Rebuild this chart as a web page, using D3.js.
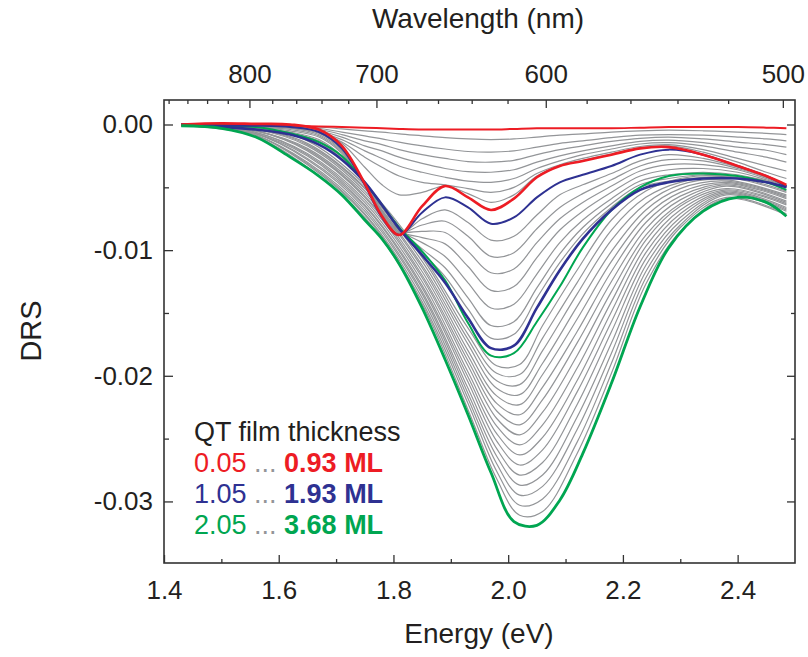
<!DOCTYPE html>
<html>
<head>
<meta charset="utf-8">
<script src="https://cdn.jsdelivr.net/npm/d3@7"></script>
<style>
  body { margin: 0; background: #fff; }
  svg { font-family: "Liberation Sans", Arial, sans-serif; }
</style>
</head>
<body>
<svg id="chart"></svg>
<script>
// DRS values below are in units of 1e-3
var drsUnit = 1e-3

// energy grid (eV) for the coloured curves and gray groups 1, 2
var energy = [1.43, 1.50, 1.56, 1.62, 1.67, 1.71, 1.75, 1.78, 1.81, 1.85, 1.89, 1.93,
              1.97, 2.01, 2.05, 2.09, 2.13, 2.18, 2.23, 2.28, 2.34, 2.40, 2.45, 2.485]

var red005   = [0, 0, -0.05, -0.1, -0.15, -0.2, -0.25, -0.3, -0.35, -0.4, -0.4, -0.4,
                -0.4, -0.35, -0.3, -0.3, -0.3, -0.3, -0.25, -0.2, -0.2, -0.2, -0.25, -0.3]
var red093   = [0, 0.1, 0.05, 0, -0.4, -1.7, -4.7, -7.3, -8.8, -6.5, -4.9, -5.8,
                -6.8, -5.9, -4.2, -3.3, -2.9, -2.4, -1.9, -1.8, -2.4, -3.3, -4.1, -4.8]
var blue105  = [0, -0.1, -0.1, -0.2, -0.6, -1.9, -4.8, -7.4, -8.8, -7.0, -5.8, -6.6,
                -7.9, -7.4, -5.8, -4.6, -4.0, -3.3, -2.4, -2.0, -2.4, -3.3, -4.1, -4.9]
var blue193  = [0, -0.2, -0.4, -0.8, -1.6, -2.8, -4.6, -6.4, -8.3, -10.4, -12.6, -15.4,
                -17.8, -17.6, -14.6, -11.6, -9.1, -6.8, -5.2, -4.6, -4.3, -4.3, -4.6, -5.0]
var green205 = [0, -0.1, -0.2, -0.7, -1.4, -2.5, -4.6, -6.4, -8.2, -10.1, -12.4, -15.8,
                -18.4, -18.2, -15.7, -12.9, -9.8, -6.8, -5.0, -4.1, -3.9, -4.1, -4.6, -5.2]
var green368 = [-0.1, -0.3, -1.0, -2.6, -4.1, -5.6, -7.6, -9.1, -11.1, -14.6, -18.7, -23.1,
                -27.7, -31.6, -31.9, -29.9, -26.2, -20.6, -14.5, -9.8, -6.9, -5.8, -6.2, -7.3]

// gray curves between 0.05 and 0.93 ML
var grayGroup1 = [
  [0, 0, 0, -0.1, -0.2, -0.35, -0.5, -0.6, -0.75, -0.9, -1.05, -1.15, -1.2, -1.15, -1.0, -0.85, -0.75, -0.6, -0.5, -0.45, -0.5, -0.6, -0.7, -0.8],
  [0, 0, 0, -0.1, -0.3, -0.6, -0.9, -1.15, -1.4, -1.7, -1.95, -2.15, -2.2, -2.1, -1.8, -1.5, -1.3, -1.05, -0.85, -0.8, -0.85, -1.0, -1.15, -1.3],
  [0, 0, 0, -0.15, -0.4, -0.8, -1.3, -1.6, -2.0, -2.4, -2.7, -2.95, -3.0, -2.85, -2.4, -2.0, -1.7, -1.35, -1.1, -1.0, -1.15, -1.4, -1.6, -1.8],
  [0, 0, 0, -0.15, -0.5, -1.0, -1.7, -2.1, -2.6, -3.1, -3.5, -3.75, -3.8, -3.6, -3.0, -2.5, -2.1, -1.7, -1.35, -1.25, -1.45, -1.8, -2.05, -2.4],
  [0, 0, 0, -0.2, -0.6, -1.2, -2.1, -2.7, -3.3, -3.8, -4.2, -4.5, -4.6, -4.3, -3.5, -2.9, -2.4, -1.95, -1.55, -1.45, -1.7, -2.2, -2.6, -3.0],
  [0, 0, 0, -0.2, -0.6, -1.4, -2.6, -3.4, -4.1, -4.6, -4.8, -5.1, -5.4, -5.0, -3.9, -3.2, -2.7, -2.2, -1.75, -1.6, -2.0, -2.7, -3.3, -3.7],
  [0, 0, 0, -0.2, -0.5, -1.5, -3.4, -4.8, -5.6, -5.4, -4.9, -5.5, -6.2, -5.6, -4.1, -3.3, -2.85, -2.35, -1.85, -1.7, -2.2, -3.0, -3.8, -4.3]
]

// gray curves between 1.05 and 1.93 ML
var grayGroup2 = [
  [0, -0.1, -0.1, -0.3, -0.7, -2.0, -4.8, -7.2, -8.7, -7.5, -6.8, -7.8, -9.2, -8.9, -7.2, -5.6, -4.8, -3.9, -2.9, -2.4, -2.7, -3.4, -4.2, -4.9],
  [0, -0.1, -0.2, -0.3, -0.8, -2.1, -4.8, -7.1, -8.6, -8.0, -7.7, -8.9, -10.5, -10.2, -8.3, -6.6, -5.5, -4.4, -3.3, -2.8, -2.9, -3.5, -4.2, -4.9],
  [0, -0.1, -0.2, -0.4, -0.9, -2.2, -4.7, -7.0, -8.5, -8.5, -8.6, -10.1, -11.8, -11.5, -9.4, -7.5, -6.2, -4.9, -3.7, -3.2, -3.2, -3.6, -4.3, -4.9],
  [0, -0.1, -0.2, -0.5, -1.0, -2.3, -4.7, -6.9, -8.5, -9.0, -9.5, -11.3, -13.2, -12.9, -10.6, -8.4, -6.9, -5.4, -4.1, -3.6, -3.5, -3.8, -4.4, -4.9],
  [0, -0.2, -0.3, -0.6, -1.2, -2.5, -4.7, -6.8, -8.4, -9.4, -10.5, -12.6, -14.6, -14.3, -11.9, -9.4, -7.6, -5.9, -4.5, -4.0, -3.8, -4.0, -4.5, -5.0],
  [0, -0.2, -0.3, -0.7, -1.3, -2.6, -4.6, -6.6, -8.3, -9.9, -11.4, -13.8, -16.0, -15.7, -13.0, -10.3, -8.2, -6.3, -4.8, -4.3, -4.0, -4.1, -4.5, -5.0],
  [0, -0.2, -0.4, -0.7, -1.4, -2.7, -4.6, -6.5, -8.3, -10.2, -12.1, -14.7, -17.0, -16.7, -13.8, -11.0, -8.7, -6.6, -5.0, -4.5, -4.2, -4.2, -4.6, -5.0]
]

// gray curves between 2.05 and 3.68 ML (own energy grid)
var energyGroup3 = [1.43, 1.55, 1.65, 1.75, 1.85, 1.93, 1.98, 2.02, 2.06, 2.12, 2.18, 2.24, 2.30, 2.38, 2.485]
var grayGroup3 = [
  [0, -0.2, -1.3, -4.8, -10.4, -16.2, -19.2, -19.1, -16.0, -11.6, -7.6, -5.3, -4.3, -4.1, -5.3],
  [0, -0.3, -1.5, -5.0, -10.6, -16.7, -19.8, -19.9, -17.0, -12.6, -8.4, -5.8, -4.6, -4.2, -5.4],
  [0, -0.3, -1.6, -5.1, -10.9, -17.1, -20.4, -20.7, -18.0, -13.5, -9.2, -6.3, -4.8, -4.4, -5.6],
  [0, -0.3, -1.7, -5.3, -11.2, -17.5, -21.0, -21.5, -19.0, -14.5, -10.1, -6.8, -5.1, -4.5, -5.7],
  [0, -0.4, -1.9, -5.5, -11.4, -18.0, -21.6, -22.3, -19.9, -15.5, -10.9, -7.3, -5.4, -4.6, -5.8],
  [0, -0.4, -2.0, -5.7, -11.7, -18.4, -22.2, -23.1, -20.9, -16.5, -11.7, -7.8, -5.7, -4.7, -5.9],
  [0, -0.4, -2.1, -5.8, -12.0, -18.8, -22.8, -23.9, -21.9, -17.4, -12.5, -8.3, -6.0, -4.8, -6.1],
  [0, -0.5, -2.3, -6.0, -12.2, -19.2, -23.4, -24.7, -22.9, -18.4, -13.3, -8.8, -6.3, -4.9, -6.2],
  [-0.1, -0.5, -2.4, -6.2, -12.5, -19.7, -24.0, -25.5, -23.9, -19.4, -14.1, -9.2, -6.5, -5.1, -6.3],
  [-0.1, -0.6, -2.5, -6.4, -12.8, -20.1, -24.6, -26.3, -24.9, -20.4, -14.9, -9.7, -6.8, -5.2, -6.4],
  [-0.1, -0.6, -2.7, -6.5, -13.0, -20.5, -25.2, -27.1, -25.9, -21.3, -15.7, -10.2, -7.1, -5.3, -6.6],
  [-0.1, -0.6, -2.8, -6.7, -13.3, -21.0, -25.8, -27.9, -26.9, -22.3, -16.5, -10.7, -7.4, -5.4, -6.7],
  [-0.1, -0.7, -3.0, -6.9, -13.5, -21.4, -26.4, -28.7, -27.9, -23.3, -17.4, -11.2, -7.7, -5.5, -6.8],
  [-0.1, -0.7, -3.1, -7.1, -13.8, -21.8, -27.0, -29.5, -28.8, -24.3, -18.2, -11.7, -8.0, -5.6, -6.9],
  [-0.1, -0.7, -3.2, -7.2, -14.1, -22.2, -27.6, -30.3, -29.8, -25.3, -19.0, -12.2, -8.2, -5.8, -7.1],
  [-0.1, -0.8, -3.4, -7.4, -14.3, -22.7, -28.2, -31.1, -30.8, -26.2, -19.8, -12.7, -8.5, -5.9, -7.2]
]

// ticks
var energyTicks = [1.4, 1.6, 1.8, 2.0, 2.2, 2.4]
var energyMinor = [1.5, 1.7, 1.9, 2.1, 2.3]
var wavelengthTicks = [800, 700, 600, 500]
var wavelengthMinor = [880, 860, 840, 820, 780, 760, 740, 720, 680, 660, 640, 620,
                       580, 560, 540, 520]
var drsTicks = [0, -0.01, -0.02, -0.03]
var drsMinor = [-0.005, -0.015, -0.025]

var legendRows = [
  {from: "0.05", to: "0.93 ML", color: "#ed1c24"},
  {from: "1.05", to: "1.93 ML", color: "#2e3192"},
  {from: "2.05", to: "3.68 ML", color: "#00a651"}
]

var dimensions = {
  width: 808,
  height: 657,
  margin: { top: 100, bottom: 94, right: 13, left: 164 }
}
var gray = "#939598"
var ink = "#231f20"

var svg = d3.select("#chart")
            .attr("width", dimensions.width)
            .attr("height", dimensions.height)

var xScale = d3.scaleLinear()
               .domain([1.4, 2.5])
               .range([dimensions.margin.left, dimensions.width - dimensions.margin.right])
var yScale = d3.scaleLinear()
               .domain([-0.0349, 0.00195])
               .range([dimensions.height - dimensions.margin.bottom, dimensions.margin.top])

// wavelength axis on top: same pixel positions as energy = 1239.84 / lambda
var hc = 1239.84
var wlScale = function(nm) { return xScale(hc / nm) }

var lineGen = function(xs) {
  return d3.line()
           .x((d, i) => xScale(xs[i]))
           .y(d => yScale(d * drsUnit))
           .curve(d3.curveCatmullRom.alpha(0.5))
}

var curves = svg.append("g")

// gray first
grayGroup1.concat(grayGroup2).forEach(function(c) {
  curves.append("path").attr("d", lineGen(energy)(c))
        .attr("fill", "none").attr("stroke", gray).attr("stroke-width", 1.2)
})
grayGroup3.forEach(function(c) {
  curves.append("path").attr("d", lineGen(energyGroup3)(c))
        .attr("fill", "none").attr("stroke", gray).attr("stroke-width", 1.2)
})

var colored = [
  {v: red005, c: "#ed1c24", w: 2},
  {v: green205, c: "#00a651", w: 2},
  {v: blue193, c: "#2e3192", w: 2.6},
  {v: blue105, c: "#2e3192", w: 2},
  {v: red093, c: "#ed1c24", w: 2.6},
  {v: green368, c: "#00a651", w: 2.8}
]
colored.forEach(function(s) {
  curves.append("path").attr("d", lineGen(energy)(s.v))
        .attr("fill", "none").attr("stroke", s.c).attr("stroke-width", s.w)
        .attr("stroke-linejoin", "round")
})

// axes, ticks inward
var H = dimensions.height - dimensions.margin.bottom
var L = dimensions.margin.left
var R = dimensions.width - dimensions.margin.right
var T = dimensions.margin.top

function styleAxis(g) {
  g.select(".domain").remove()
  g.selectAll("line").attr("stroke", "#333").attr("stroke-width", 1.3)
  g.selectAll("text").attr("fill", ink).style("font-size", "26px")
}

svg.append("g").attr("transform", `translate(0,${H})`)
   .call(d3.axisBottom(xScale).tickValues(energyTicks).tickSize(-8).tickPadding(17.5)
           .tickFormat(d => d.toFixed(1)))
   .call(styleAxis)
svg.append("g").attr("transform", `translate(0,${H})`)
   .call(d3.axisBottom(xScale).tickValues(energyMinor).tickSize(-4).tickFormat(""))
   .call(styleAxis)

svg.append("g").attr("transform", `translate(${L},0)`)
   .call(d3.axisLeft(yScale).tickValues(drsTicks).tickSize(-9).tickPadding(11)
           .tickFormat(d => d.toFixed(2)))
   .call(styleAxis)
svg.append("g").attr("transform", `translate(${L},0)`)
   .call(d3.axisLeft(yScale).tickValues(drsMinor).tickSize(-5).tickFormat(""))
   .call(styleAxis)
svg.append("g").attr("transform", `translate(${R},0)`)
   .call(d3.axisRight(yScale).tickValues(drsTicks).tickSize(-8).tickFormat(""))
   .call(styleAxis)
svg.append("g").attr("transform", `translate(${R},0)`)
   .call(d3.axisRight(yScale).tickValues(drsMinor).tickSize(-4).tickFormat(""))
   .call(styleAxis)

var wlAxis = svg.append("g").attr("transform", `translate(0,${T})`)
wlAxis.selectAll("line.major").data(wavelengthTicks).enter().append("line")
      .attr("x1", d => wlScale(d)).attr("x2", d => wlScale(d))
      .attr("y1", 0).attr("y2", 8)
      .attr("stroke", "#333").attr("stroke-width", 1.3)
wlAxis.selectAll("line.minor").data(wavelengthMinor).enter().append("line")
      .attr("x1", d => wlScale(d)).attr("x2", d => wlScale(d))
      .attr("y1", 0).attr("y2", 4)
      .attr("stroke", "#333").attr("stroke-width", 1.3)
wlAxis.selectAll("text").data(wavelengthTicks).enter().append("text")
      .attr("x", d => wlScale(d)).attr("y", -17)
      .attr("text-anchor", "middle").attr("fill", ink)
      .style("font-size", "26px").text(d => d)

// frame
svg.append("rect")
   .attr("x", L).attr("y", T).attr("width", R - L).attr("height", H - T)
   .attr("fill", "none").attr("stroke", "#333").attr("stroke-width", 1.6)

// titles
svg.append("text").attr("x", 478).attr("y", 28).attr("text-anchor", "middle")
   .attr("fill", ink).style("font-size", "28px").text("Wavelength (nm)")
svg.append("text").attr("x", 479).attr("y", 643).attr("text-anchor", "middle")
   .attr("fill", ink).style("font-size", "28px").text("Energy (eV)")
svg.append("text").attr("transform", "translate(41,331) rotate(-90)")
   .attr("text-anchor", "middle").attr("fill", ink)
   .style("font-size", "29px").text("DRS")

// legend
var legend = svg.append("g").attr("transform", "translate(194,441)")
legend.append("text").attr("fill", ink).style("font-size", "27px").text("QT film thickness")
legendRows.forEach(function(r, i) {
  var t = legend.append("text").attr("y", 31 * (i + 1)).style("font-size", "27px")
  t.append("tspan").attr("fill", r.color).text(r.from + " ")
  t.append("tspan").attr("fill", gray).text("... ")
  t.append("tspan").attr("fill", r.color).attr("font-weight", "bold").text(r.to)
})
</script>
</body>
</html>
